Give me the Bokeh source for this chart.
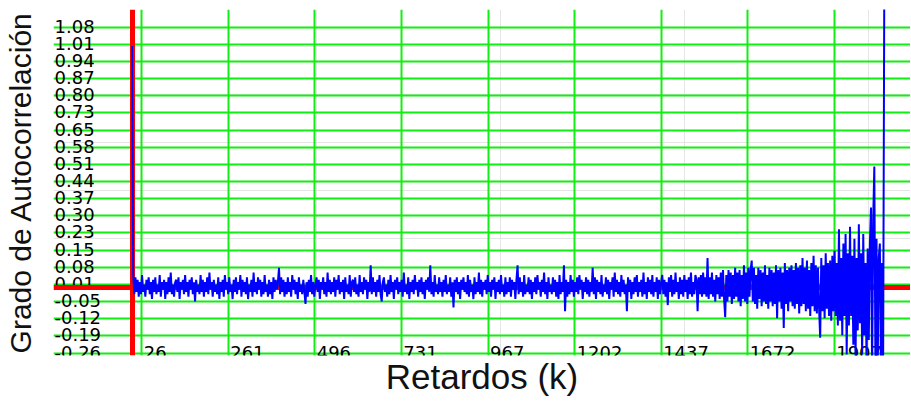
import numpy as np
from bokeh.plotting import figure
from bokeh.models import ColumnDataSource, Grid, FixedTicker, LinearAxis, Range1d
from bokeh.core.properties import value
from bokeh.embed import file_html
from bokeh.resources import INLINE

# ---------------- data ----------------
LAG_STEP = 3
acf = [
    1.00, 0.05, -0.03, 0.04, -0.02, 0.03, -0.04, 0.02, -0.03, 0.05, -0.02, 0.01, -0.04, 0.03, -0.01, 0.04, -0.03, 0.02, -0.05, 0.03,
    -0.02, 0.04, -0.03, 0.01, -0.02, 0.05, -0.04, 0.02, -0.01, 0.03, -0.05, 0.02, -0.03, 0.04, -0.02, 0.06, -0.03, 0.01, -0.04, 0.02,
    0.03, -0.02, 0.04, -0.05, 0.02, -0.01, 0.03, -0.03, 0.05, -0.02, 0.02, -0.04, 0.03, -0.01, 0.04, -0.03, 0.02, -0.06, 0.03, -0.02,
    0.01, -0.03, 0.05, -0.02, 0.03, -0.04, 0.02, -0.02, 0.04, -0.03, 0.06, -0.01, 0.02, -0.04, 0.03, -0.02, 0.01, -0.03, 0.04, -0.05,
    0.02, -0.02, 0.03, -0.04, 0.05, -0.01, 0.02, -0.03, 0.04, -0.02, 0.01, -0.05, 0.03, -0.02, 0.04, -0.03, 0.02, -0.01, 0.05, -0.04,
    0.03, -0.02, 0.02, -0.03, 0.04, -0.05, 0.01, -0.02, 0.03, -0.04, 0.06, -0.02, 0.02, -0.03, 0.04, -0.01, 0.03, -0.04, 0.02, -0.03,
    0.05, -0.02, 0.01, -0.04, 0.03, -0.03, 0.02, -0.05, 0.04, -0.02, 0.03, -0.01, 0.02, 0.08, -0.03, 0.04, -0.02, 0.03, -0.04, 0.02,
    -0.03, 0.04, -0.02, 0.02, -0.04, 0.05, -0.01, 0.03, -0.03, 0.02, -0.05, 0.04, -0.02, 0.01, -0.03, 0.03, -0.02, -0.07, 0.02, -0.04,
    0.03, -0.02, 0.05, -0.03, 0.02, -0.04, 0.01, 0.04, -0.02, 0.03, -0.05, 0.02, -0.01, 0.04, -0.03, 0.02, -0.04, 0.06, -0.02, 0.03,
    -0.03, 0.02, -0.02, 0.04, -0.04, 0.03, -0.01, 0.05, -0.03, 0.02, -0.02, 0.03, -0.05, 0.04, -0.02, 0.01, -0.03, 0.05, -0.04, 0.02,
    0.03, -0.02, 0.04, -0.03, 0.01, -0.04, 0.05, -0.02, 0.02, -0.03, 0.04, -0.01, 0.03, -0.05, 0.02, -0.02, 0.09, -0.03, 0.04, -0.02,
    0.02, -0.04, 0.03, -0.02, 0.05, -0.03, -0.06, 0.02, 0.04, -0.02, 0.01, -0.04, 0.03, -0.03, 0.05, -0.02, 0.02, -0.05, 0.03, -0.01,
    0.04, -0.03, 0.02, -0.02, 0.03, -0.04, 0.06, -0.02, 0.01, -0.03, 0.04, -0.05, 0.02, -0.02, 0.03, -0.03, 0.05, -0.01, 0.02, -0.04,
    0.03, -0.02, 0.04, -0.03, 0.02, -0.05, 0.03, -0.01, 0.04, -0.02, 0.09, -0.03, 0.02, -0.04, 0.05, -0.02, 0.01, -0.03, 0.04, -0.02,
    0.02, -0.04, 0.03, -0.02, 0.05, -0.03, 0.01, -0.02, 0.04, -0.04, 0.02, -0.085, 0.03, -0.02, 0.04, -0.03, 0.02, -0.05, 0.03, -0.01,
    0.04, -0.02, 0.02, -0.03, 0.05, -0.04, 0.03, -0.02, 0.01, -0.05, 0.04, -0.03, 0.02, -0.02, 0.06, -0.03, 0.03, -0.04, 0.02, -0.01,
    0.03, -0.03, 0.05, -0.02, 0.02, -0.04, 0.03, -0.01, 0.04, -0.05, 0.02, -0.02, 0.03, -0.03, 0.05, -0.02, 0.01, -0.04, 0.04, -0.03,
    0.02, -0.02, 0.04, -0.04, 0.03, -0.01, 0.02, -0.05, 0.03, 0.09, -0.03, 0.04, -0.02, 0.02, -0.04, 0.05, -0.03, 0.01, -0.02, 0.04,
    -0.03, 0.03, -0.05, 0.02, -0.02, 0.04, -0.03, 0.05, -0.01, 0.02, -0.04, 0.03, -0.02, 0.06, -0.03, 0.02, -0.05, 0.04, -0.02, 0.01,
    -0.03, 0.04, -0.02, 0.03, -0.04, 0.02, -0.05, 0.05, -0.03, 0.02, -0.02, 0.09, -0.10, 0.03, -0.04, 0.02, -0.03, 0.05, -0.02, 0.03,
    -0.04, 0.02, -0.02, 0.04, -0.03, 0.05, -0.01, 0.03, -0.05, 0.02, -0.02, 0.04, -0.03, 0.03, -0.04, 0.02, -0.02, 0.08, -0.03, 0.04,
    -0.05, 0.03, -0.02, 0.02, -0.03, 0.05, -0.04, 0.01, -0.02, 0.04, -0.03, 0.03, -0.05, 0.02, -0.01, 0.04, -0.04, 0.06, -0.02, 0.03,
    -0.03, 0.02, -0.04, 0.05, -0.02, 0.03, -0.03, 0.01, -0.10, 0.04, -0.02, 0.03, -0.05, 0.02, -0.03, 0.04, -0.02, 0.05, -0.04, 0.02,
    -0.02, 0.03, -0.04, 0.06, -0.03, 0.02, -0.05, 0.04, -0.02, 0.03, -0.03, 0.05, -0.04, 0.02, -0.02, 0.04, -0.05, 0.03, -0.03, 0.02,
    0.05, -0.03, 0.03, -0.04, 0.02, -0.075, 0.04, -0.02, 0.05, -0.04, 0.03, -0.03, 0.06, -0.02, 0.02, -0.05, 0.04, -0.03, 0.03, -0.04,
    0.05, -0.02, 0.03, -0.05, 0.04, -0.03, 0.06, -0.04, 0.02, -0.03, 0.05, 0.03, -0.10, 0.04, -0.03, 0.05, -0.04, 0.06, -0.03, 0.04,
    -0.04, 0.12, -0.05, 0.04, -0.03, 0.06, -0.04, 0.03, -0.06, 0.05, -0.03, 0.04, -0.05, 0.06, -0.04, 0.07, -0.05, -0.125, 0.05, -0.06,
    0.07, -0.04, 0.06, -0.07, 0.05, -0.05, 0.08, -0.04, 0.06, -0.06, 0.07, -0.08, 0.05, -0.05, 0.09, -0.06, 0.06, -0.07, 0.08, -0.04,
    0.07, 0.11, -0.06, 0.08, -0.07, 0.05, -0.09, 0.08, -0.05, 0.07, -0.08, 0.06, -0.06, 0.09, -0.07, 0.05, -0.09, 0.08, -0.06, 0.07,
    -0.08, 0.06, -0.07, 0.09, -0.13, 0.07, -0.06, 0.08, -0.09, 0.06, -0.17, 0.10, -0.07, 0.07, -0.10, 0.08, -0.06, 0.09, -0.08, 0.07,
    -0.09, 0.10, -0.07, 0.08, -0.11, 0.09, -0.08, 0.12, -0.07, 0.08, -0.10, 0.11, -0.09, 0.07, -0.12, 0.10, -0.08, 0.13, -0.10, 0.09,
    -0.11, 0.08, -0.09, -0.21, 0.12, -0.10, 0.09, -0.13, 0.14, -0.09, 0.10, -0.12, 0.11, -0.14, 0.13, -0.10, 0.15, -0.12, 0.10, -0.16,
    0.24, -0.14, 0.12, -0.20, 0.18, -0.12, 0.22, -0.28, 0.14, -0.16, 0.25, -0.12, 0.13, -0.24, 0.20, -0.30, 0.12, -0.18, 0.26, -0.15,
    0.14, -0.28, 0.22, -0.20, 0.10, -0.33, 0.16, -0.22, 0.18, 0.33, -0.36, 0.28, 0.50, -0.32, 0.20, -0.38, 0.12, 0.18, -0.34, 0.10,
    -0.30, 1.20,
]
lags = [i * LAG_STEP for i in range(len(acf))]

x_tick_values = [26, 261, 496, 731, 967, 1202, 1437, 1672, 1907]
x_tick_labels = ["26", "261", "496", "731", "967", "1202", "1437", "1672", "1907"]
y_tick_labels = ["-0.26", "-0.19", "-0.12", "-0.05", "0.01", "0.08", "0.15", "0.23", "0.30", "0.37",
                 "0.44", "0.51", "0.58", "0.65", "0.73", "0.80", "0.87", "0.94", "1.01", "1.08"]

x_title = "Retardos (k)"
y_title = "Grado de Autocorrelación"

# ---------------- layout ----------------
X_START, X_END = -213.5, 2114.3
Y_START, Y_END = -0.2842, 1.1515
Y_GRID_LO, Y_GRID_HI = -0.274, 1.078
y_tick_values = list(np.linspace(Y_GRID_LO, Y_GRID_HI, len(y_tick_labels)))

p = figure(width=910, height=400, output_backend="svg", toolbar_location=None,
           x_range=Range1d(X_START, X_END), y_range=Range1d(Y_START, Y_END),
           x_axis_location=None, y_axis_location=None,
           min_border_left=53, min_border_right=0, min_border_top=9, min_border_bottom=45)
p.outline_line_color = None
p.background_fill_color = "white"
p.border_fill_color = "white"

GREEN = "#11ee11"
p.add_layout(Grid(dimension=0, ticker=FixedTicker(ticks=x_tick_values),
                  grid_line_color=GREEN, grid_line_width=2))
p.add_layout(Grid(dimension=1, ticker=FixedTicker(ticks=y_tick_values),
                  grid_line_color=GREEN, grid_line_width=2))

# tick labels drawn inside the frame
ysrc = ColumnDataSource(dict(x=[X_START] * len(y_tick_values), y=y_tick_values, t=y_tick_labels))
p.text(x="x", y="y", text="t", source=ysrc, text_font=value("DejaVu Sans"),
       text_font_size="18px", text_color="black", text_baseline="alphabetic",
       x_offset=1, y_offset=-1)
xsrc = ColumnDataSource(dict(x=x_tick_values, y=[y_tick_values[0]] * len(x_tick_values), t=x_tick_labels))
p.text(x="x", y="y", text="t", source=xsrc, text_font=value("DejaVu Sans"),
       text_font_size="18px", text_color="black", text_baseline="alphabetic",
       x_offset=2, y_offset=-1)

# zero reference lines
p.hspan(y=[0], line_color="#ff0000", line_width=5)
p.vspan(x=[0], line_color="#ff0000", line_width=5)

# autocorrelation series
p.line(lags, acf, line_color="#0000ff", line_width=2)

# axis titles (axes carry only their titles)
def title_axis(label, size, standoff):
    return LinearAxis(ticker=FixedTicker(ticks=[]), axis_label=label,
                      axis_line_color=None, major_tick_line_color=None, minor_tick_line_color=None,
                      major_label_text_font_size="0px", major_tick_out=0, minor_tick_out=0,
                      major_label_standoff=0,
                      axis_label_text_font="Liberation Sans", axis_label_text_font_size=size,
                      axis_label_text_font_style="normal", axis_label_text_color="#111111",
                      axis_label_standoff=standoff)

p.add_layout(title_axis(x_title, "35px", 1), "below")
p.add_layout(title_axis(y_title, "30px", 17), "left")

open("out.html", "w").write(file_html(p, INLINE))
